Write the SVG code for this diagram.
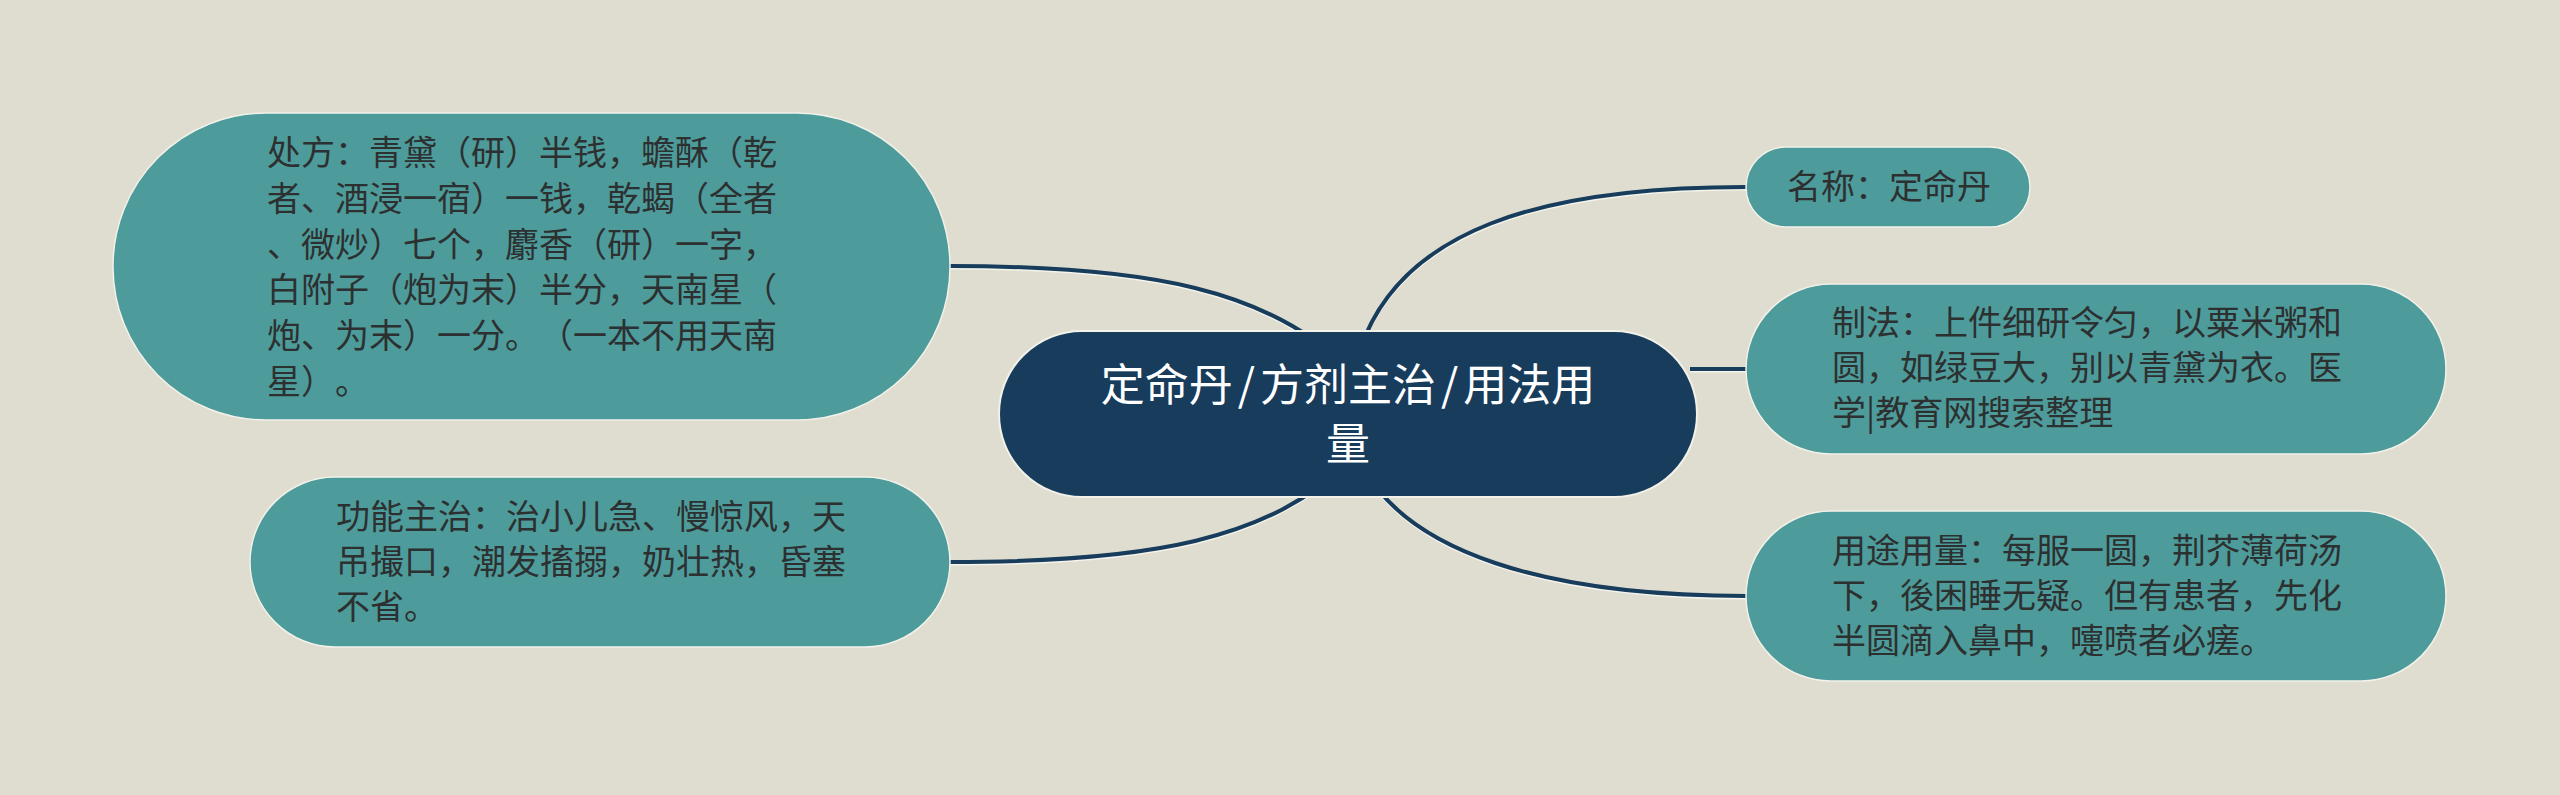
<svg xmlns="http://www.w3.org/2000/svg" width="2560" height="795" viewBox="0 0 2560 795">
<style>
.bg{fill:#dfddd0}
.leaf rect{fill:#4d9c9b;stroke:#f2f1ea;stroke-width:1.5}
.root rect{fill:#173c5c;stroke:#f2f1ea;stroke-width:2}
text{text-spacing-trim:space-all}
.t{font-family:"Noto Sans CJK SC","Noto Sans",sans-serif;font-size:34px;fill:#2d3030}
.rt{font-family:"Noto Sans CJK SC","Noto Sans",sans-serif;font-size:44px;fill:#ffffff;text-anchor:middle}
.c{fill:none;stroke:#173c5c;stroke-width:4}
.cs{fill:none;stroke:#f4f3ec;stroke-width:3}
</style>
<rect class="bg" x="0" y="0" width="2560" height="795"/>
<g id="connectors">
  <g transform="translate(0,2)">
    <path class="cs" d="M950,266 C1150,266 1270,290 1350,370"/>
    <path class="cs" d="M950,562 C1150,562 1270,540 1350,460"/>
    <path class="cs" d="M1746,187 C1540,187 1400,230 1360,350"/>
    <path class="cs" d="M1690,369 L1746,369"/>
    <path class="cs" d="M1746,596 C1540,596 1410,550 1365,470"/>
  </g>
  <path class="c" d="M950,266 C1150,266 1270,290 1350,370"/>
  <path class="c" d="M950,562 C1150,562 1270,540 1350,460"/>
  <path class="c" d="M1746,187 C1540,187 1400,230 1360,350"/>
  <path class="c" d="M1690,369 L1746,369"/>
  <path class="c" d="M1746,596 C1540,596 1410,550 1365,470"/>
</g>
<g id="root" class="root">
  <rect x="999" y="331" width="698" height="166" rx="83" ry="83"/>
  <text class="rt" x="1348" y="401">定命丹<tspan dx="5">/</tspan><tspan dx="5">方剂主治</tspan><tspan dx="5">/</tspan><tspan dx="5">用法用</tspan></text>
  <text class="rt" x="1348" y="460">量</text>
</g>
<g id="node-chufang" class="leaf">
  <rect x="113" y="113" width="837" height="307" rx="153" ry="153"/>
  <text class="t" x="267" y="165">处方：青黛（研）半钱，蟾酥（乾</text>
  <text class="t" x="267" y="211">者、酒浸一宿）一钱，乾蝎（全者</text>
  <text class="t" x="267" y="257">、微炒）七个，麝香（研）一字，</text>
  <text class="t" x="267" y="302">白附子（炮为末）半分，天南星（</text>
  <text class="t" x="267" y="348">炮、为末）一分。（一本不用天南</text>
  <text class="t" x="267" y="394">星）。</text>
</g>
<g id="node-gongneng" class="leaf">
  <rect x="250" y="477" width="700" height="170" rx="85" ry="85"/>
  <text class="t" x="336" y="529">功能主治：治小儿急、慢惊风，天</text>
  <text class="t" x="336" y="574">吊撮口，潮发搐搦，奶壮热，昏塞</text>
  <text class="t" x="336" y="619">不省。</text>
</g>
<g id="node-mingcheng" class="leaf">
  <rect x="1746" y="147" width="284" height="80" rx="40" ry="40"/>
  <text class="t" x="1787" y="199">名称：定命丹</text>
</g>
<g id="node-zhifa" class="leaf">
  <rect x="1746" y="284" width="700" height="170" rx="85" ry="85"/>
  <text class="t" x="1832" y="335">制法：上件细研令匀，以粟米粥和</text>
  <text class="t" x="1832" y="380">圆，如绿豆大，别以青黛为衣。医</text>
  <text class="t" x="1832" y="425">学|教育网搜索整理</text>
</g>
<g id="node-yongtu" class="leaf">
  <rect x="1746" y="511" width="700" height="170" rx="85" ry="85"/>
  <text class="t" x="1832" y="563">用途用量：每服一圆，荆芥薄荷汤</text>
  <text class="t" x="1832" y="608">下，後困睡无疑。但有患者，先化</text>
  <text class="t" x="1832" y="653">半圆滴入鼻中，嚏喷者必瘥。</text>
</g>
</svg>
